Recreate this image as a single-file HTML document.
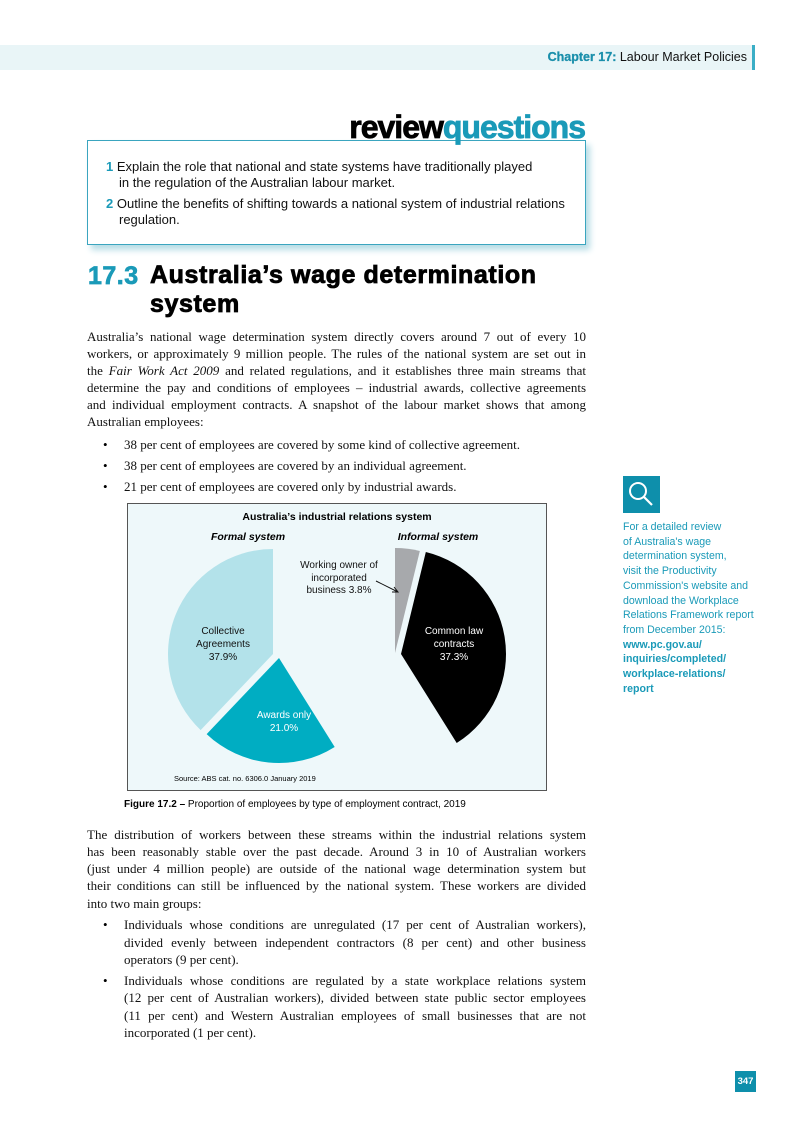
<!DOCTYPE html>
<html><head><meta charset="utf-8">
<style>
body{margin:0;background:#fff;}
#page{position:relative;width:794px;height:1123px;overflow:hidden;background:#fff;font-family:"Liberation Sans",sans-serif;}
.l{position:absolute;left:87px;width:499px;font-family:"Liberation Serif",serif;font-size:13px;line-height:17px;text-align:justify;text-align-last:justify;white-space:nowrap;color:#111;}
.l.e{text-align-last:left;}
.b{left:124px;width:462px;}
.dot{position:absolute;left:103px;font-family:"Liberation Serif",serif;font-size:13px;line-height:17px;}
.side{position:absolute;left:623px;font-size:10.6px;line-height:14.7px;color:#1a9ab8;}
</style></head><body>
<div id="page">
  <div style="position:absolute;left:0;top:45px;width:752px;height:25px;background:#e9f5f7"></div>
  <div style="position:absolute;left:752px;top:45px;width:3px;height:25px;background:#3aaec6"></div>
  <div style="position:absolute;right:47px;top:50px;font-size:12.5px;color:#111;"><b style="color:#1a8fab;-webkit-text-stroke:0.3px #1a8fab">Chapter 17:</b> Labour Market Policies</div>

  <div style="position:absolute;left:87px;top:140px;width:497px;height:103px;border:1px solid #3aa5bf;background:#fff;box-shadow:4px 5px 6px #b8dde6"></div>
  <div style="position:absolute;right:209px;top:108px;font-size:32px;font-weight:bold;letter-spacing:-1px;line-height:38px;-webkit-text-stroke:0.8px currentColor"><span style="color:#000">review</span><span style="color:#1a9ab8">questions</span></div>
  <div style="position:absolute;left:106px;top:159px;font-size:13px;line-height:16px;color:#111"><b style="color:#1a9ab8">1</b> Explain the role that national and state systems have traditionally played<br><span style="padding-left:13px">in the regulation of the Australian labour market.</span></div>
  <div style="position:absolute;left:106px;top:196px;font-size:13px;line-height:16px;color:#111"><b style="color:#1a9ab8">2</b> Outline the benefits of shifting towards a national system of industrial relations<br><span style="padding-left:13px">regulation.</span></div>

  <div style="position:absolute;left:88px;top:261px;font-size:25px;font-weight:bold;color:#1a9ab8;line-height:30px;letter-spacing:0.5px;-webkit-text-stroke:0.7px #1a9ab8">17.3</div>
  <div style="position:absolute;left:150px;top:261px;font-size:25px;font-weight:bold;color:#000;line-height:29px;letter-spacing:0.6px;-webkit-text-stroke:0.8px #000">Australia’s wage determination<br>system</div>

  <div class="l" style="top:328px">Australia’s national wage determination system directly covers around 7 out of every 10</div>
  <div class="l" style="top:345px">workers, or approximately 9 million people. The rules of the national system are set out in</div>
  <div class="l" style="top:362px">the <i>Fair Work Act 2009</i> and related regulations, and it establishes three main streams that</div>
  <div class="l" style="top:379px">determine the pay and conditions of employees – industrial awards, collective agreements</div>
  <div class="l" style="top:396px">and individual employment contracts. A snapshot of the labour market shows that among</div>
  <div class="l e" style="top:413px">Australian employees:</div>
  <div class="dot" style="top:436px">•</div><div class="l b e" style="top:436px">38 per cent of employees are covered by some kind of collective agreement.</div>
  <div class="dot" style="top:457px">•</div><div class="l b e" style="top:457px">38 per cent of employees are covered by an individual agreement.</div>
  <div class="dot" style="top:478px">•</div><div class="l b e" style="top:478px">21 per cent of employees are covered only by industrial awards.</div>

  <div style="position:absolute;left:623px;top:476px;width:37px;height:37px;background:#0e8fab">
    <svg width="37" height="37"><circle cx="15" cy="15" r="8" fill="none" stroke="#fff" stroke-width="2"/><line x1="21" y1="21" x2="29" y2="29" stroke="#fff" stroke-width="2.2"/></svg>
  </div>
  <div class="side" style="top:520px">For a detailed review<br>of Australia's wage<br>determination system,<br>visit the Productivity<br>Commission's website and<br>download the Workplace<br>Relations Framework report<br>from December 2015:<br><b>www.pc.gov.au/<br>inquiries/completed/<br>workplace-relations/<br>report</b></div>

  <div style="position:absolute;left:127px;top:503px;width:418px;height:286px;border:1px solid #555;background:#eef8fa">
    <svg id="chart" width="418" height="286" style="position:absolute;left:0;top:0"></svg>
    <div style="position:absolute;left:0;width:418px;top:7px;text-align:center;font-size:10.5px;font-weight:bold">Australia’s industrial relations system</div>
    <div style="position:absolute;left:70px;width:100px;top:27px;text-align:center;font-size:10.5px;font-weight:bold;font-style:italic">Formal system</div>
    <div style="position:absolute;left:255px;width:110px;top:27px;text-align:center;font-size:10.5px;font-weight:bold;font-style:italic">Informal system</div>
    <div id="lab0" style="position:absolute;left:45px;width:100px;top:121px;text-align:center;font-size:10px;line-height:13px;color:#111"></div>
    <div id="lab1" style="position:absolute;left:106px;width:100px;top:205px;text-align:center;font-size:10px;line-height:13px;color:#fff"></div>
    <div id="lab2" style="position:absolute;left:161px;width:100px;top:56px;text-align:center;font-size:10px;line-height:12.5px;color:#111"></div>
    <div id="lab3" style="position:absolute;left:276px;width:100px;top:121px;text-align:center;font-size:10px;line-height:13px;color:#fff"></div>
    <div style="position:absolute;left:46px;top:270px;font-size:7.5px">Source: ABS cat. no. 6306.0 January 2019</div>
  </div>
  <div style="position:absolute;left:124px;top:799px;font-size:10px"><b>Figure 17.2 –</b> Proportion of employees by type of employment contract, 2019</div>

  <div class="l" style="top:826px">The distribution of workers between these streams within the industrial relations system</div>
  <div class="l" style="top:843px">has been reasonably stable over the past decade. Around 3 in 10 of Australian workers</div>
  <div class="l" style="top:860px">(just under 4 million people) are outside of the national wage determination system but</div>
  <div class="l" style="top:877px">their conditions can still be influenced by the national system. These workers are divided</div>
  <div class="l e" style="top:895px">into two main groups:</div>
  <div class="dot" style="top:916px">•</div><div class="l b" style="top:916px">Individuals whose conditions are unregulated (17 per cent of Australian workers),</div>
  <div class="l b" style="top:934px">divided evenly between independent contractors (8 per cent) and other business</div>
  <div class="l b e" style="top:951px">operators (9 per cent).</div>
  <div class="dot" style="top:972px">•</div><div class="l b" style="top:972px">Individuals whose conditions are regulated by a state workplace relations system</div>
  <div class="l b" style="top:989px">(12 per cent of Australian workers), divided between state public sector employees</div>
  <div class="l b" style="top:1007px">(11 per cent) and Western Australian employees of small businesses that are not</div>
  <div class="l b e" style="top:1024px">incorporated (1 per cent).</div>

  <div style="position:absolute;left:735px;top:1071px;width:21px;height:21px;background:#0e8fab;color:#fff;font-size:9.5px;font-weight:bold;text-align:center;line-height:21px">347</div>
</div>
<script>
const formalCats = ["Collective Agreements", "Awards only"];
const formalVals = [37.9, 21.0];
const informalCats = ["Working owner of incorporated business", "Common law contracts"];
const informalVals = [3.8, 37.3];

const svg = document.getElementById('chart');
const NS = 'http://www.w3.org/2000/svg';
const R = 105;
function angleOf(p){ return p / 100 * 2 * Math.PI; }
function pt(cx, cy, a, r, dir){ return [cx + dir * Math.sin(a) * r, cy - Math.cos(a) * r]; }
function slice(cx, cy, a0, a1, dir, ox, oy, color, name){
  const c = [cx + ox, cy + oy];
  const p0 = pt(c[0], c[1], a0, R, dir), p1 = pt(c[0], c[1], a1, R, dir);
  const large = (a1 - a0) > Math.PI ? 1 : 0;
  const sweep = dir > 0 ? 1 : 0;
  const path = document.createElementNS(NS, 'path');
  path.setAttribute('d', `M${c[0]},${c[1]} L${p0[0]},${p0[1]} A${R},${R} 0 ${large} ${sweep} ${p1[0]},${p1[1]} Z`);
  path.setAttribute('fill', color);
  
  
  svg.appendChild(path);
}
const formalColors = ['#b3e2ea', '#00adc2'];
const formalNames = ['collective-slice', 'awards-slice'];
let a = 0;
formalVals.forEach((v, i) => {
  const a1 = a + angleOf(v);
  slice(145, 150, a, a1, -1, i === 1 ? 6 : 0, i === 1 ? 4 : 0, formalColors[i], formalNames[i]);
  a = a1;
});
const informalColors = ['#a7a9ac', '#000'];
const informalNames = ['working-owner-slice', 'common-law-slice'];
a = 0;
informalVals.forEach((v, i) => {
  const a1 = a + angleOf(v);
  slice(267, 149, a, a1, 1, i === 1 ? 6 : 0, i === 1 ? 1 : 0, informalColors[i], informalNames[i]);
  a = a1;
});
const arrow = document.createElementNS(NS, 'path');
arrow.setAttribute('d', 'M248,77 L270,88 M264,88 L270,88 L266,83');
arrow.setAttribute('stroke', '#111');
arrow.setAttribute('fill', 'none');
arrow.setAttribute('stroke-width', '1');


svg.appendChild(arrow);

document.getElementById('lab0').innerHTML = 'Collective<br>Agreements<br>' + formalVals[0].toFixed(1) + '%';
document.getElementById('lab1').innerHTML = 'Awards only<br>' + formalVals[1].toFixed(1) + '%';
document.getElementById('lab2').innerHTML = 'Working owner of<br>incorporated<br>business ' + informalVals[0].toFixed(1) + '%';
document.getElementById('lab3').innerHTML = 'Common law<br>contracts<br>' + informalVals[1].toFixed(1) + '%';
</script>
</body></html>
